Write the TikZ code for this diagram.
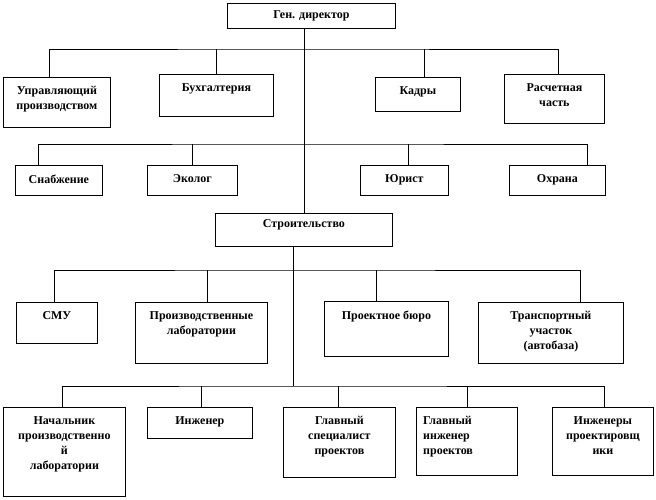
\documentclass[tikz,border=0pt]{standalone}
\usepackage{fontspec}
\setmainfont{Liberation Serif}
\usepackage{tikz}
\usetikzlibrary{calc}
\tikzset{
    % Boxes
    box/.style 2 args={draw,line width=0.8pt,rectangle,anchor=north west,inner sep=0pt,minimum width=#1,minimum height=#2},
    txt/.style={anchor=north,yshift=-9.5pt,align=center,inner sep=0pt,font=\bfseries\fontsize{12}{15}\selectfont},
    %
    % Connectors
    link/.style={line width=0.8pt}
}

\begin{document}
\begin{tikzpicture}[x=1pt,y=-1pt]
        \useasboundingbox (0,0) rectangle (656,499);

        % top level
        \node[box={168pt}{25pt},label={[txt,yshift=2pt]north:Ген. директор}] (gen) at (227,3) {};

        \node[box={107pt}{50pt},label={[txt]north:Управляющий\\производством}] (upr) at (3,77) {};
        \node[box={114pt}{42pt},label={[txt]north:Бухгалтерия}] (buh) at (159,74) {};
        \node[box={85pt}{34pt},label={[txt]north:Кадры}] (kadry) at (375,77) {};
        \node[box={100pt}{49pt},label={[txt]north:Расчетная\\часть}] (rasch) at (504,74) {};

        \node[box={87pt}{30pt},label={[txt]north:Снабжение}] (snab) at (15,165) {};
        \node[box={90pt}{30pt},label={[txt]north:Эколог}] (ekolog) at (147,165) {};
        \node[box={88pt}{30pt},label={[txt]north:Юрист}] (yurist) at (360,165) {};
        \node[box={96pt}{30pt},label={[txt]north:Охрана}] (ohrana) at (509,165) {};

        % construction
        \node[box={177pt}{33pt},label={[txt,yshift=3pt]north:Строительство}] (stroy) at (215,213) {};

        \node[box={81pt}{41pt},label={[txt]north:СМУ}] (smu) at (16,302) {};
        \node[box={132pt}{61pt},label={[txt]north:Производственные\\лаборатории}] (lab) at (135,302) {};
        \node[box={124pt}{55pt},label={[txt]north:Проектное бюро}] (proekt) at (324,301) {};
        \node[box={145pt}{61pt},label={[txt]north:Транспортный\\участок\\(автобаза)}] (trans) at (478,302) {};

        \node[box={122pt}{89pt},label={[txt]north:Начальник\\производственно\\й\\лаборатории}] (nach) at (3,407) {};
        \node[box={105pt}{31pt},label={[txt]north:Инженер}] (inzh) at (147,407) {};
        \node[box={112pt}{70pt},label={[txt]north:Главный\\специалист\\проектов}] (glspec) at (283,407) {};
        \node[box={101pt}{68pt},label={[txt,anchor=north west,align=left,xshift=7pt]north west:Главный\\инженер\\проектов}] (glinzh) at (416,407) {};
        \node[box={101pt}{68pt},label={[txt]north:Инженеры\\проектировщ\\ики}] (inzhpr) at (552,407) {};

        % bus lines
        \coordinate (bus1) at (303,49);
        \coordinate (bus2) at (303,144);
        \coordinate (bus3) at (293,270);
        \coordinate (bus4) at (293,386);

        \draw[link] (stroy.north) -- (stroy.north |- gen.south);

        \draw[link] ([xshift=-8pt]upr.north) |- (bus1) -| ([xshift=4pt]rasch.north);
        \draw[link] (buh.north) -- (buh.north |- bus1);
        \draw[link] ([xshift=6pt]kadry.north) -- ([xshift=6pt]kadry.north |- bus1);

        \draw[link] ([xshift=-21pt]snab.north) |- (bus2) -| ([xshift=30pt]ohrana.north);
        \draw[link] (ekolog.north) -- (ekolog.north |- bus2);
        \draw[link] ([xshift=4pt]yurist.north) -- ([xshift=4pt]yurist.north |- bus2);

        \draw[link] (bus3 |- stroy.south) -- (bus4);

        \draw[link] ([xshift=-3pt]smu.north) |- (bus3) -| ([xshift=29pt]trans.north);
        \draw[link] ([xshift=6pt]lab.north) -- ([xshift=6pt]lab.north |- bus3);
        \draw[link] ([xshift=-10pt]proekt.north) -- ([xshift=-10pt]proekt.north |- bus3);

        \draw[link] ([xshift=-2pt]nach.north) |- (bus4) -| ([xshift=1pt]inzhpr.north);
        \draw[link] ([xshift=1pt]inzh.north) -- ([xshift=1pt]inzh.north |- bus4);
        \draw[link] ([xshift=-1pt]glspec.north) -- ([xshift=-1pt]glspec.north |- bus4);
        \draw[link] (glinzh.north) -- (glinzh.north |- bus4);
    \end{tikzpicture}
\end{document}
